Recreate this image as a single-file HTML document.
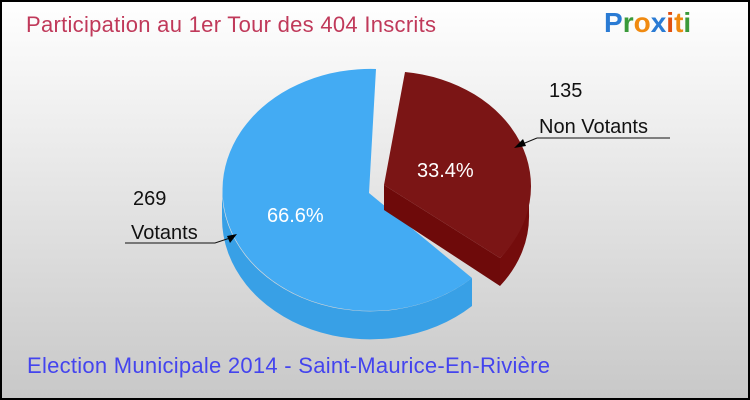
<!DOCTYPE html>
<html><head><meta charset="utf-8"><style>
body{margin:0;width:750px;height:400px;overflow:hidden}
svg{display:block}
text{font-family:"Liberation Sans",sans-serif}
</style></head><body>
<svg width="750" height="400" viewBox="0 0 750 400">
<defs><linearGradient id="bg" x1="0" y1="0" x2="0" y2="1">
<stop offset="0" stop-color="#ffffff"/><stop offset="1" stop-color="#c8c8c8"/></linearGradient></defs>
<rect x="1" y="1" width="748" height="398" fill="url(#bg)" stroke="#000" stroke-width="2"/>
<text x="26" y="32" font-size="22" fill="#c0395a" textLength="410">Participation au  1er Tour des 404 Inscrits</text>
<text x="604" y="32" font-size="28" font-weight="bold" fill="#2a7bd4">P<tspan fill="#3a9a3a">r</tspan><tspan fill="#f08a10">o</tspan><tspan fill="#2a7bd4">x</tspan><tspan fill="#e05010">i</tspan><tspan fill="#f08a10">t</tspan><tspan fill="#3a9a3a">i</tspan></text>
<!-- blue side -->
<path d="M222,190 A148,121 0 0 0 472,278 L472,306 A148,121 0 0 1 222,218 Z" fill="#38a0e6"/>
<!-- blue top -->
<path d="M369,193 L472,278 A148,121 0 1 1 376,69 Z" fill="#43abf3"/>
<!-- red side -->
<path d="M384,185 L384,210 L500,286 L500,258 Z" fill="#6e0a0a"/>
<path d="M500,258 A142,115 0 0 0 529,185 L529,213 A142,115 0 0 1 500,286 Z" fill="#740c0c"/>
<!-- red top -->
<path d="M384,185 L405,72 A142,115 0 0 1 500,258 Z" fill="#7b1515"/>
<text x="267" y="222" font-size="20" fill="#fff">66.6%</text>
<text x="417" y="177" font-size="20" fill="#fff">33.4%</text>
<text x="549" y="97" font-size="20" fill="#111">135</text>
<text x="539" y="133" font-size="20" fill="#111">Non Votants</text>
<path d="M537,138 H670 M537,138 L520,145" stroke="#111" fill="none"/>
<polygon points="514,148 523,139 526,146" fill="#000"/>
<text x="133" y="205" font-size="20" fill="#111">269</text>
<text x="131" y="239" font-size="20" fill="#111">Votants</text>
<path d="M125,243 H215 L230,238" stroke="#111" fill="none"/>
<polygon points="237,234 227,236 230,243" fill="#000"/>
<text x="27" y="373" font-size="22" fill="#4444ee" textLength="523">Election Municipale 2014 - Saint-Maurice-En-Rivière</text>
</svg>
</body></html>
